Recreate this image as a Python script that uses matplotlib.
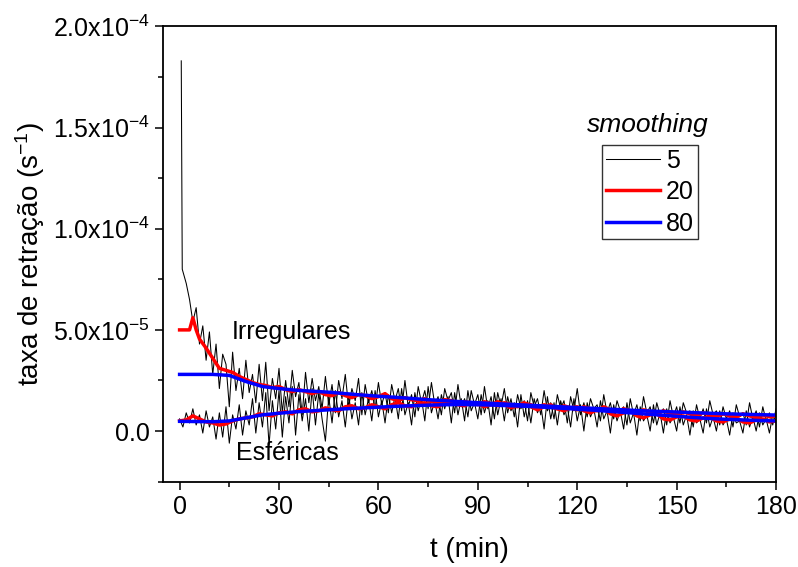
import matplotlib
matplotlib.use('Agg')
import matplotlib.pyplot as plt
from matplotlib.ticker import MultipleLocator, FuncFormatter
import numpy as np

plt.rcParams['font.family'] = ['Liberation Sans', 'DejaVu Sans']
plt.rcParams['mathtext.fontset'] = 'custom'
plt.rcParams['mathtext.rm'] = 'Liberation Sans'
plt.rcParams['mathtext.it'] = 'Liberation Sans:italic'

SCALE = 1e-5

# ---------------- data (values in units of 1e-5 s^-1) ----------------
# smoothing 5 (raw-ish), irregular particles
t_irr_5 = [0.5, 0.8] + list(range(2, 181))
irr_5 = [18.3, 8.0,
         7.3, 6.5, 5.4, 6.1, 4.3, 5.2, 3.5, 4.9, 2.8, 4.3,
         2.1, 3.8, 3.3, 1.2, 3.9, 2.0, 3.1, 1.6, 3.5, 1.9,
         2.8, 1.4, 3.3, 1.5, 3.4, 1.0, 2.6, 1.6, 3.1, 0.9,
         2.5, 1.2, 3.0, 1.7, 2.4, 0.8, 2.9, 1.4, 2.6, 1.5,
         2.2, 1.1, 2.7, 1.3, 2.3, 0.9, 2.5, 1.6, 2.8, 1.2,
         2.1, 1.5, 2.6, 0.8, 2.3, 1.4, 2.0, 1.1, 2.4, 1.3,
         1.9, 0.9, 2.3, 1.5, 2.1, 1.0, 2.5, 1.2, 1.8, 0.7,
         2.2, 1.4, 2.0, 1.1, 2.4, 1.3, 1.7, 0.8, 2.1, 1.5,
         1.9, 0.9, 2.3, 1.2, 1.6, 0.7, 2.0, 1.3, 1.8, 0.8,
         2.2, 1.1, 1.7, 0.6, 1.9, 1.2, 2.1, 0.9, 1.6, 0.7,
         1.8, 1.1, 1.5, 0.5, 1.9, 1.2, 1.6, 0.8, 2.0, 1.0,
         1.4, 0.6, 1.8, 1.1, 1.5, 0.4, 1.7, 1.0, 2.1, 0.8,
         1.4, 0.7, 1.6, 1.1, 1.3, 0.5, 1.8, 0.9, 1.4, 0.6,
         1.5, 1.0, 1.2, 0.3, 1.6, 0.8, 1.3, 0.5, 1.7, 0.9,
         1.2, 0.4, 1.4, 0.8, 1.1, 0.3, 1.5, 0.7, 1.2, 0.4,
         1.4, 0.9, 1.0, 0.2, 1.3, 0.6, 1.1, 0.4, 1.5, 0.8,
         1.0, 0.3, 1.2, 0.6, 1.0, 0.2, 1.3, 0.7, 0.9, 0.3,
         1.4, 0.6, 1.0, 0.2, 1.2, 0.5, 0.9, 0.3, 1.1]

# smoothing 5, spherical particles
t_sph_5 = list(range(0, 181))
sph_5 = [0.6, 0.2, 0.9, 0.4, 1.1, 0.3, 0.8, -0.1, 1.0, 0.2,
         0.7, -0.4, 0.9, -0.3, 1.2, -0.6, 0.8, 0.1, 1.3, -0.2,
         1.0, 0.3, 1.6, -0.1, 1.4, 0.2, 1.9, -0.7, 1.5, 0.1,
         2.0, -0.3, 1.7, 0.4, 2.2, -0.2, 1.8, 0.5, 1.6, 0.0,
         2.1, 0.3, 1.9, 0.6, -0.5, 1.7, 0.4, 2.0, 0.7, 1.5,
         0.2, 1.8, 0.6, 1.4, 0.3, 1.9, 0.8, 1.6, 0.5, 2.0,
         0.7, 1.5, 0.4, 1.8, 0.9, 1.7, 0.6, 2.1, 0.8, 1.4,
         0.3, 1.9, 1.0, 1.6, 0.5, 2.2, 0.9, 1.5, 0.6, 1.8,
         1.1, 1.7, 0.4, 1.9, 0.8, 1.6, 0.5, 2.0, 1.0, 1.4,
         0.6, 1.8, 0.9, 1.5, 0.3, 1.9, 0.8, 1.6, 0.5, 1.7,
         1.0, 1.4, 0.2, 1.8, 0.7, 1.5, 0.4, 1.6, 0.9, 1.3,
         0.1, 1.7, 0.6, 1.4, 0.3, 1.5, 0.8, 1.2, 0.2, 1.6,
         0.5, 1.3, 0.0, 1.4, 0.7, 1.1, 0.2, 1.5, 0.6, 1.0,
         -0.1, 1.3, 0.5, 1.0, 0.1, 1.4, 0.4, 0.9, -0.2, 1.2,
         0.5, 0.8, 0.0, 1.3, 0.3, 0.9, -0.1, 1.1, 0.4, 0.7,
         0.0, 1.2, 0.3, 0.8, -0.2, 1.0, 0.4, 0.6, -0.1, 1.1,
         0.2, 0.7, 0.0, 1.0, 0.3, 0.6, -0.2, 0.9, 0.4, 0.5,
         -0.1, 1.0, 0.2, 0.7, 0.0, 0.9, 0.3, 0.6, -0.1, 0.8,
         0.4]

# smoothing 20
t_irr_20 = [0, 3, 4, 5] + list(range(6, 181, 2))
irr_20 = [5.0, 5.0, 5.6, 5.0,
          4.55, 4.1, 3.6, 3.1, 3.0, 2.9, 2.7, 2.55, 2.4, 2.3,
          2.25, 2.15, 2.2, 2.05, 1.95, 2.05, 1.95, 1.85, 1.95, 1.8,
          1.75, 1.9, 1.75, 1.65, 1.8, 1.75, 1.6, 1.7, 1.85, 1.6,
          1.5, 1.65, 1.55, 1.5, 1.6, 1.45, 1.4, 1.55, 1.5, 1.35,
          1.45, 1.4, 1.3, 1.45, 1.35, 1.25, 1.4, 1.3, 1.2, 1.35,
          1.3, 1.15, 1.3, 1.2, 1.1, 1.25, 1.15, 1.05, 1.2, 1.1,
          1.0, 1.2, 1.05, 0.95, 1.1, 1.0, 0.9, 1.05, 0.95, 0.85,
          1.0, 0.9, 0.8, 0.95, 0.85, 0.75, 0.9, 0.8, 0.7, 0.85,
          0.75, 0.7, 0.85, 0.75, 0.65, 0.8, 0.7, 0.75]

t_sph_20 = list(range(0, 181, 2))
sph_20 = [0.5, 0.55, 0.75, 0.6, 0.45, 0.4, 0.3, 0.35, 0.5, 0.6,
          0.65, 0.7, 0.85, 0.8, 0.75, 0.9, 0.95, 0.85, 1.05, 1.1,
          0.95, 1.0, 1.15, 1.05, 1.0, 1.2, 1.25, 1.1, 1.15, 1.3,
          1.2, 1.1, 1.3, 1.4, 1.25, 1.2, 1.35, 1.4, 1.25, 1.2,
          1.4, 1.45, 1.3, 1.25, 1.4, 1.35, 1.2, 1.3, 1.45, 1.3,
          1.15, 1.25, 1.4, 1.2, 1.05, 1.2, 1.3, 1.1, 1.0, 1.15,
          1.2, 1.0, 0.9, 1.05, 1.1, 0.85, 0.75, 0.9, 1.0, 0.75,
          0.65, 0.8, 0.85, 0.6, 0.55, 0.7, 0.75, 0.55, 0.5, 0.65,
          0.7, 0.5, 0.45, 0.6, 0.65, 0.45, 0.4, 0.55, 0.6, 0.45,
          0.5]

# smoothing 80
t_80 = list(range(0, 181, 5))
irr_80 = [2.8, 2.8, 2.8, 2.75, 2.45, 2.2, 2.1, 2.02, 1.97, 1.92,
          1.85, 1.78, 1.72, 1.67, 1.61, 1.55, 1.5, 1.45, 1.4, 1.36,
          1.32, 1.28, 1.24, 1.2, 1.16, 1.12, 1.08, 1.04, 1.0, 0.97,
          0.94, 0.91, 0.88, 0.85, 0.83, 0.81, 0.79]
sph_80 = [0.48, 0.47, 0.46, 0.5, 0.65, 0.8, 0.88, 0.95, 1.0, 1.05,
          1.1, 1.14, 1.18, 1.22, 1.25, 1.28, 1.3, 1.31, 1.3, 1.28,
          1.25, 1.22, 1.18, 1.13, 1.08, 1.03, 0.97, 0.91, 0.85, 0.79,
          0.73, 0.67, 0.62, 0.58, 0.55, 0.52, 0.5]

legend_labels = ['5', '20', '80']
x_ticks = list(range(0, 181, 30))
y_ticks = [0.0, 5e-5, 1e-4, 1.5e-4, 2e-4]

# ---------------- figure ----------------
fig = plt.figure(figsize=(7.98, 5.67), dpi=100)
ax = fig.add_axes([0.2043, 0.1506, 0.7682, 0.8027])

def sc(v):
    return np.array(v) * SCALE

l5, = ax.plot(t_irr_5, sc(irr_5), color='black', lw=0.75)
ax.plot(t_sph_5, sc(sph_5), color='black', lw=0.75)
l20, = ax.plot(t_irr_20, sc(irr_20), color='#ff0000', lw=2.5)
ax.plot(t_sph_20, sc(sph_20), color='#ff0000', lw=2.5)
l80, = ax.plot(t_80, sc(irr_80), color='#0000ff', lw=2.5)
ax.plot(t_80, sc(sph_80), color='#0000ff', lw=2.5)

ax.set_xlim(-5, 180)
ax.set_ylim(-2.5e-5, 2.0e-4)
ax.set_xticks(x_ticks)
ax.xaxis.set_minor_locator(MultipleLocator(15))
ax.set_yticks(y_ticks)
ax.yaxis.set_minor_locator(MultipleLocator(2.5e-5))

def yfmt(v, pos):
    if abs(v) < 1e-12:
        return '0.0'
    e = int(np.floor(np.log10(abs(v))))
    m = v / 10**e
    return r'%.1fx10$^{%d}$' % (m, e)

ax.yaxis.set_major_formatter(FuncFormatter(yfmt))
ax.tick_params(which='both', direction='out', width=1.1, labelsize=18,
               top=False, right=False)
ax.tick_params(which='major', length=6)
ax.tick_params(which='minor', length=3.5)
for s in ax.spines.values():
    s.set_linewidth(1.3)

ax.set_xlabel('t (min)', fontsize=20)
ax.set_ylabel('taxa de retração (s$^{-1}$)', fontsize=20)
ax.xaxis.set_label_coords(0.5, -0.122)
ax.yaxis.set_label_coords(-0.189, 0.5)

ax.text(15.8, 4.9e-5, 'Irregulares', fontsize=18, va='center', ha='left')
ax.text(17, -1.1e-5, 'Esféricas', fontsize=18, va='center', ha='left')

leg = ax.legend([l5, l20, l80], legend_labels, loc='upper left',
                bbox_to_anchor=(602 / 798, 1 - 145 / 567),
                bbox_transform=fig.transFigure, borderaxespad=0,
                fontsize=18, frameon=True, fancybox=False,
                edgecolor='black', handlelength=2.15, handletextpad=0.25,
                labelspacing=0.3, borderpad=0.15)
leg.get_frame().set_linewidth(1.0)
ax.text(648 / 798, 1 - 125 / 567, 'smoothing', transform=fig.transFigure,
        fontsize=19, style='italic', ha='center', va='center')

fig.savefig('out.png', dpi=100)
